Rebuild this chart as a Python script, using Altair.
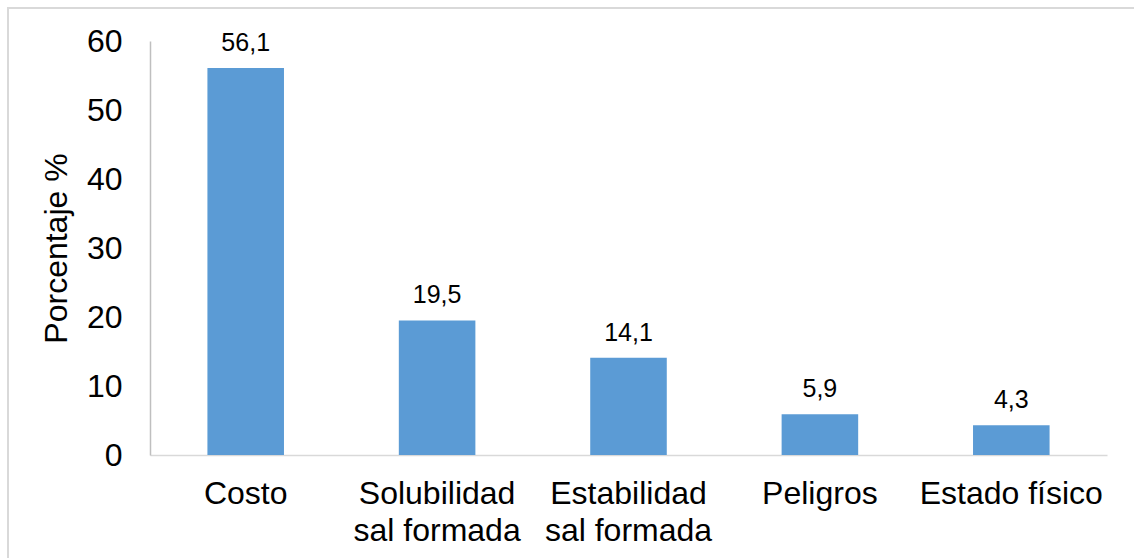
import altair as alt
import pandas as pd

# Factores considerados y su porcentaje
categorias = ["Costo", "Solubilidad|sal formada", "Estabilidad|sal formada", "Peligros", "Estado físico"]
porcentajes = [56.1, 19.5, 14.1, 5.9, 4.3]

df = pd.DataFrame({"categoria": categorias, "porcentaje": porcentajes})

FONT = "Liberation Sans"
BAR_COLOR = "#5B9BD5"

x_enc = alt.X(
    "categoria:N",
    sort=None,
    scale=alt.Scale(paddingInner=0, paddingOuter=0),
    axis=alt.Axis(
        title=None,
        labelAngle=0,
        labelExpr="split(datum.label, '|')",
        labelFontSize=32,
        labelFont=FONT,
        labelColor="#000000",
        labelPadding=23,
        labelLineHeight=37,
        labelBaseline="top",
        labelLimit=0,
        labelOverlap=False,
        ticks=False,
        domainColor="#d9d9d9",
        domainWidth=1.5,
    ),
)

y_enc = alt.Y(
    "porcentaje:Q",
    scale=alt.Scale(domain=[0, 60], nice=False),
    axis=alt.Axis(
        title="Porcentaje %",
        values=[0, 10, 20, 30, 40, 50, 60],
        grid=False,
        ticks=False,
        labelFontSize=32,
        labelFont=FONT,
        labelColor="#000000",
        labelPadding=28,
        titleFontSize=32,
        titleFont=FONT,
        titleFontWeight="normal",
        titleColor="#000000",
        titlePadding=13,
        domainColor="#bfbfbf",
        domainWidth=1.5,
    ),
)

bars = alt.Chart(df).mark_bar(
    color=BAR_COLOR, width=alt.RelativeBandSize(0.4)
).encode(x=x_enc, y=y_enc)

labels = alt.Chart(df).transform_calculate(
    etiqueta="replace(format(datum.porcentaje, '.1f'), '.', ',')"
).mark_text(
    font=FONT, fontSize=25, color="#000000", baseline="bottom", dy=-12
).encode(x=alt.X("categoria:N", sort=None), y="porcentaje:Q", text="etiqueta:N")

# Light gray frame around the whole figure
frame = alt.Chart(alt.Data(values=[{}])).mark_rect(
    fillOpacity=0, stroke="#d9d9d9", strokeWidth=2, clip=False
).encode(
    x=alt.value(-142), x2=alt.value(1000), y=alt.value(-33), y2=alt.value(620)
)

chart = alt.layer(frame, bars, labels).properties(
    width=957,
    height=414,
    background="#ffffff",
    autosize=alt.AutoSizeParams(type="none"),
    padding={"left": 150, "top": 41, "right": 27, "bottom": 103},
).configure_view(strokeWidth=0, stroke="transparent")

chart.save("out.html", embed_options={"renderer": "svg", "actions": False})
